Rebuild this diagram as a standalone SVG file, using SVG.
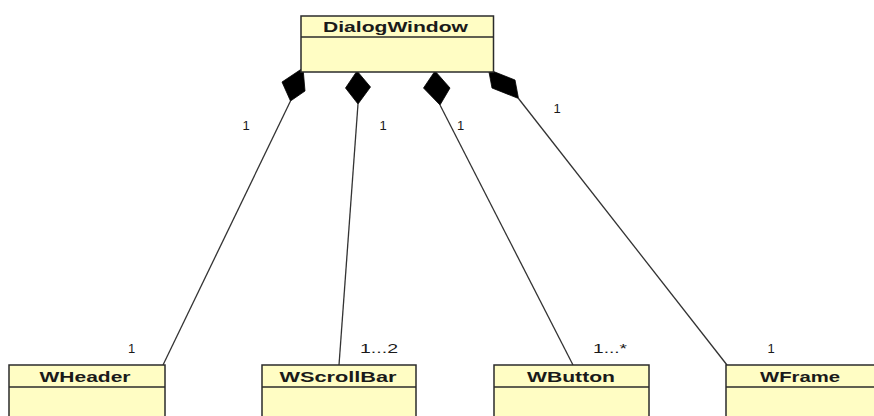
<svg xmlns="http://www.w3.org/2000/svg" width="874" height="416" viewBox="0 0 874 416">
  <style>
    .cls rect { fill: #FFFDC4; stroke: #2b2b2b; stroke-width: 1.5; }
    .cls line { stroke: #2b2b2b; stroke-width: 1.5; }
    .name { font-family: "Liberation Sans", Arial, sans-serif; font-weight: bold; font-size: 14px; fill: #1a1a1a; }
    .mult { font-family: "Liberation Sans", Arial, sans-serif; font-size: 13px; fill: #1a1a1a; }
    .conn line { stroke: #333; stroke-width: 1.3; }
    .conn polygon { fill: #000; stroke: #000; stroke-width: 0.8; stroke-linejoin: round; }
  </style>
  <rect width="874" height="416" fill="#ffffff"/>

  <!-- composition connectors: filled diamonds at the DialogWindow end -->
  <g id="connectors" class="conn">
    <line x1="290.5" y1="101" x2="163" y2="365"/>
    <polygon points="303,68 282,82 290.5,101 305,91"/>
    <line x1="358" y1="104" x2="339" y2="365"/>
    <polygon points="357,71 345.5,88 358,104 370.5,87"/>
    <line x1="440" y1="105" x2="573" y2="365"/>
    <polygon points="435,71 423.5,88 440,105 450,88"/>
    <line x1="518.5" y1="98.5" x2="727" y2="365"/>
    <polygon points="488.5,69.5 515,80 518.5,98.5 492,88"/>
    <!-- multiplicities -->
    <text class="mult" x="246" y="129.5" text-anchor="middle">1</text>
    <text class="mult" x="383" y="129.5" text-anchor="middle">1</text>
    <text class="mult" x="460.5" y="129.5" text-anchor="middle">1</text>
    <text class="mult" x="557" y="113" text-anchor="middle">1</text>
    <text class="mult" x="131.5" y="353" text-anchor="middle">1</text>
    <text class="mult" x="360" y="353" textLength="38" lengthAdjust="spacingAndGlyphs">1...2</text>
    <text class="mult" x="593" y="353" textLength="34" lengthAdjust="spacingAndGlyphs">1...*</text>
    <text class="mult" x="771" y="353" text-anchor="middle">1</text>
  </g>

  <g id="DialogWindow" class="cls">
    <rect x="301" y="16" width="192.5" height="56"/>
    <line x1="301" y1="37" x2="493.5" y2="37"/>
    <text class="name" x="323" y="32" textLength="145" lengthAdjust="spacingAndGlyphs">DialogWindow</text>
  </g>

  <g id="WHeader" class="cls">
    <rect x="9" y="365" width="156" height="60"/>
    <line x1="9" y1="387" x2="165" y2="387"/>
    <text class="name" x="39.5" y="381.5" textLength="91" lengthAdjust="spacingAndGlyphs">WHeader</text>
  </g>

  <g id="WScrollBar" class="cls">
    <rect x="262" y="365" width="154" height="60"/>
    <line x1="262" y1="387" x2="416" y2="387"/>
    <text class="name" x="279.5" y="381.5" textLength="117" lengthAdjust="spacingAndGlyphs">WScrollBar</text>
  </g>

  <g id="WButton" class="cls">
    <rect x="494" y="365" width="155" height="60"/>
    <line x1="494" y1="387" x2="649" y2="387"/>
    <text class="name" x="527" y="381.5" textLength="88" lengthAdjust="spacingAndGlyphs">WButton</text>
  </g>

  <g id="WFrame" class="cls">
    <rect x="726" y="365" width="156" height="60"/>
    <line x1="726" y1="387" x2="882" y2="387"/>
    <text class="name" x="760" y="381.5" textLength="80" lengthAdjust="spacingAndGlyphs">WFrame</text>
  </g>
</svg>
